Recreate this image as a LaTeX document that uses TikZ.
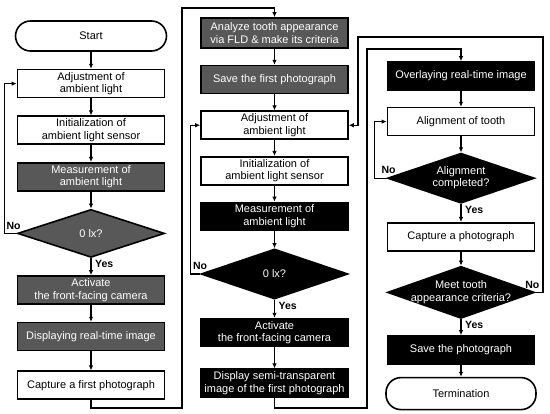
\documentclass[tikz,border=0pt]{standalone}
\usepackage{fontspec}
\setmainfont{Liberation Sans}
\usetikzlibrary{shapes.geometric,arrows.meta,positioning}
\definecolor{stepgray}{RGB}{88,88,88}

\begin{document}
\begin{tikzpicture}[x=1pt, y=-1pt, font=\fontsize{11}{12.5}\selectfont, node distance=17pt, >={Latex[length=5pt,width=4.5pt]},
    box/.style={draw, line width=1.6pt, fill=white, minimum width=147pt, minimum height=28pt, inner sep=2pt, align=center},
    gbox/.style={box, fill=stepgray, text=white},
    bbox/.style={box, fill=black, text=white},
    term/.style={box, rounded corners=15pt, minimum width=151pt, minimum height=30pt},
    dec/.style={draw, line width=1.6pt, diamond, inner sep=0pt, minimum width=147pt, minimum height=50pt, fill=black, text=white},
    gdec/.style={dec, fill=stepgray},
    arr/.style={->, line width=1.3pt},
    lbl/.style={font=\fontsize{10.5}{12}\selectfont\bfseries, inner sep=1pt}]
    \useasboundingbox (0,0) rectangle (550,414);

    % first column
    \node[term] (start) at (91,36) {Start};
    \node[box, below=of start] (adja) {Adjustment of\\ambient light};
    \node[box, below=of adja] (inia) {Initialization of\\ambient light sensor};
    \node[gbox, below=of inia] (meaa) {Measurement of\\ambient light};
    \node[gdec, below=of meaa, minimum height=48pt] (luxa) {\makebox[0pt]{0 lx?}};
    \node[gbox, below=of luxa] (acta) {Activate\\the front-facing camera};
    \node[gbox, below=of acta] (disa) {Displaying real-time image};
    \node[box, below=19pt of disa] (capa) {Capture a first photograph};

    % second column
    \node[gbox, minimum height=30pt] (ana) at (274.5,33) {Analyze tooth appearance\\via FLD \& make its criteria};
    \node[gbox, below=16pt of ana] (savb) {Save the first photograph};
    \node[box, below=16pt of savb] (adjb) {Adjustment of\\ambient light};
    \node[box, below=16pt of adjb] (inib) {Initialization of\\ambient light sensor};
    \node[bbox, below=16pt of inib] (meab) {Measurement of\\ambient light};
    \node[dec, below=17pt of meab] (luxb) {\makebox[0pt]{0 lx?}};
    \node[bbox, below=18pt of luxb] (actb) {Activate\\the front-facing camera};
    \node[bbox, below=21pt of actb] (disb) {Display semi-transparent\\image of the first photograph};

    % third column
    \node[bbox] (ovl) at (461,76) {Overlaying real-time image};
    \node[box, below=16pt of ovl] (aln) {Alignment of tooth};
    \node[dec, below=16pt of aln] (alnd) {\makebox[0pt]{\begin{tabular}{@{}c@{}}Alignment\\completed?\end{tabular}}};
    \node[box, below=18pt of alnd] (capc) {Capture a photograph};
    \node[dec, below=14pt of capc, minimum height=52pt] (crit) {\makebox[0pt]{\begin{tabular}{@{}c@{}}Meet tooth\\appearance criteria?\end{tabular}}};
    \node[bbox, below=16pt of crit] (savc) {Save the photograph};
    \node[term, below=12pt of savc, minimum height=32pt, minimum width=150pt] (end) {Termination};

    \coordinate (la) at (182,408);
    \coordinate (lb) at (182,8);
    \coordinate (ma) at (367,408);
    \coordinate (mb) at (367,49);
    \coordinate (ra) at (543,37);
    \coordinate (rb) at (358,37);

    \draw[arr] (start) -- (adja);
    \draw[arr] (adja) -- (inia);
    \draw[arr] (inia) -- (meaa);
    \draw[arr] (meaa) -- (luxa);
    \draw[arr] (luxa) -- (acta);
    \draw[arr] (acta) -- (disa);
    \draw[arr] (disa) -- (capa);
    \draw[arr] (luxa.west) -- ++(-12,0) |- (adja.west);
    \draw[arr] (capa.south) |- (la) -- (lb) -| (ana.north);

    \draw[arr] (ana) -- (savb);
    \draw[arr] (savb) -- (adjb);
    \draw[arr] (adjb) -- (inib);
    \draw[arr] (inib) -- (meab);
    \draw[arr] (meab) -- (luxb);
    \draw[arr] (luxb) -- (actb);
    \draw[arr] (actb) -- (disb);
    \draw[arr] (luxb.west) -- ++(-10,0) |- (adjb.west);
    \draw[arr] (disb.south) |- (ma) -- (mb) -| (ovl.north);

    \draw[arr] (ovl) -- (aln);
    \draw[arr] (aln) -- (alnd);
    \draw[arr] (alnd) -- (capc);
    \draw[arr] (capc) -- (crit);
    \draw[arr] (crit) -- (savc);
    \draw[arr] (savc) -- (end);
    \draw[arr] (alnd.west) -- ++(-12,0) |- (aln.west);
    \draw[arr] (crit.east) -| (ra) -- (rb) |- (adjb.east);

    \node[lbl, anchor=south east] (noa) at ([xshift=5pt,yshift=3pt]luxa.west) {No};
    \node[lbl, anchor=south east] (nob) at ([xshift=8pt,yshift=3pt]luxb.west) {No};
    \node[lbl, anchor=south east] (noc) at ([xshift=10pt,yshift=3pt]alnd.west) {No};
    \node[lbl, anchor=south] (nod) at ([xshift=-3pt,yshift=3pt]crit.east) {No};
    \node[lbl, anchor=north west] (yesa) at ([xshift=3pt,yshift=-1pt]luxa.south) {Yes};
    \node[lbl, anchor=north west] (yesb) at ([xshift=3pt,yshift=-1pt]luxb.south) {Yes};
    \node[lbl, anchor=north west] (yesc) at ([xshift=3pt,yshift=-1pt]alnd.south) {Yes};
    \node[lbl, anchor=north west] (yesd) at ([xshift=3pt,yshift=-1pt]crit.south) {Yes};
\end{tikzpicture}
\end{document}
